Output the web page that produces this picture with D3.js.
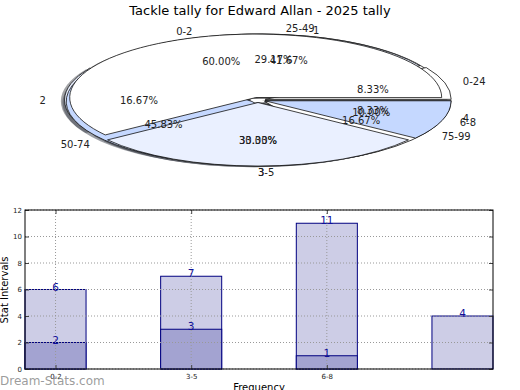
<!DOCTYPE html>
<html>
<head>
<meta charset="utf-8">
<script src="https://cdn.jsdelivr.net/npm/d3@7"></script>
<style>
  body { margin: 0; background: #fff; }
  svg { font-family: "DejaVu Sans", sans-serif; display: block; }
</style>
</head>
<body>
<script>
// chart data
const title = "Tackle tally for Edward Allan - 2025 tally";

// three pies drawn on top of each other, bottom one first
const pieNumLabels = ["1", "2", "3", "4"];
const pieNumValues = [5, 2, 4, 1];
const pieRangeLabels = ["0-24", "25-49", "50-74", "75-99"];
const pieRangeValues = [2, 7, 11, 4];
const pieStatLabels = ["0-2", "3-5", "6-8"];
const pieStatValues = [6, 3, 1];

// bar chart
const barCategories = ["0-2", "3-5", "6-8"];
const totalCounts = [6, 7, 11, 4];
const lowerCounts = [2, 3, 1];
const yTicks = [0, 2, 4, 6, 8, 10, 12];

const W = 520, H = 390;
const pieColors = ["#ffffff", "#eaf0ff", "#c5d8ff"];

const svg = d3.select("body").append("svg").attr("width", W).attr("height", H);

svg.append("text")
  .attr("x", 260).attr("y", 15)
  .attr("text-anchor", "middle")
  .attr("font-size", 13)
  .text(title);

//---- pie part ----
const cx = 258, cy = 100, rx = 186, ry = 63.5;
const explode = 0.04;

const pie = d3.pie().sort(null)
  .startAngle(Math.PI / 2)
  .endAngle(Math.PI / 2 - 2 * Math.PI); // counter clockwise from east
const arc = d3.arc().innerRadius(0).outerRadius(1);

const pieSets = [
  { labels: pieNumLabels, values: pieNumValues },
  { labels: pieRangeLabels, values: pieRangeValues },
  { labels: pieStatLabels, values: pieStatValues }
];

const wedges = [];
pieSets.forEach((p) => {
  const total = d3.sum(p.values);
  pie(p.values).forEach((a, i) => {
    const m = (a.startAngle + a.endAngle) / 2;
    wedges.push({
      ...a,
      label: p.labels[i],
      pct: a.value / total,
      color: pieColors[i % pieColors.length],
      ux: Math.sin(m),
      uy: -Math.cos(m)
    });
  });
});

const pieG = svg.append("g");

// shadows go under all wedges
pieG.selectAll("path.shadow")
  .data(wedges)
  .enter()
  .append("path")
  .attr("class", "shadow")
  .attr("d", arc)
  .attr("transform", (d) => `translate(${cx + explode * rx * d.ux - 0.02 * rx}, ${cy + explode * ry * d.uy + 0.02 * ry}) scale(${rx}, ${ry})`)
  .style("fill", (d) => { const c = d3.rgb(d.color); return d3.rgb(c.r * 0.3, c.g * 0.3, c.b * 0.3); })
  .style("fill-opacity", 0.5)
  .style("stroke", "none");

pieG.selectAll("path.wedge")
  .data(wedges)
  .enter()
  .append("path")
  .attr("class", "wedge")
  .attr("d", arc)
  .attr("transform", (d) => `translate(${cx + explode * rx * d.ux}, ${cy + explode * ry * d.uy}) scale(${rx}, ${ry})`)
  .attr("vector-effect", "non-scaling-stroke")
  .style("fill", (d) => d.color)
  .style("stroke", "#111")
  .style("stroke-width", 0.8);

pieG.selectAll("text.lbl")
  .data(wedges)
  .enter()
  .append("text")
  .attr("class", "lbl")
  .attr("x", (d) => cx + (1.1 + explode) * rx * d.ux)
  .attr("y", (d) => cy + (1.1 + explode) * ry * d.uy)
  .attr("dy", "0.35em")
  .attr("text-anchor", (d) => (d.ux > -1e-9 ? "start" : "end"))
  .attr("font-size", 10)
  .style("fill", "#222")
  .text((d) => d.label);

pieG.selectAll("text.pct")
  .data(wedges)
  .enter()
  .append("text")
  .attr("class", "pct")
  .attr("x", (d) => cx + (0.6 + explode) * rx * d.ux)
  .attr("y", (d) => cy + (0.6 + explode) * ry * d.uy)
  .attr("dy", "0.35em")
  .attr("text-anchor", "middle")
  .attr("font-size", 10)
  .style("fill", "#222")
  .text((d) => d3.format(".2f")(d.pct * 100) + "%");

//---- bar part ----
const plotLeft = 25, plotRight = 493, plotTop = 210, plotBottom = 369;
const barW = 0.45;

const x = d3.scaleLinear().domain([-barW / 2, totalCounts.length - 1 + barW / 2]).range([plotLeft, plotRight]);
const y = d3.scaleLinear().domain([0, 12]).range([plotBottom, plotTop]);

const barG = svg.append("g");

barG.selectAll("rect.total")
  .data(totalCounts)
  .enter()
  .append("rect")
  .attr("class", "total")
  .attr("x", (d, i) => x(i - barW / 2))
  .attr("width", (d, i) => x(i + barW / 2) - x(i - barW / 2))
  .attr("y", (d) => y(d))
  .attr("height", (d) => y(0) - y(d))
  .style("fill", "#cdcde6")
  .style("stroke", "#000080")
  .style("stroke-width", 1);

barG.selectAll("rect.lower")
  .data(lowerCounts)
  .enter()
  .append("rect")
  .attr("class", "lower")
  .attr("x", (d, i) => x(i - barW / 2))
  .attr("width", (d, i) => x(i + barW / 2) - x(i - barW / 2))
  .attr("y", (d) => y(d))
  .attr("height", (d) => y(0) - y(d))
  .style("fill", "#a3a3d1")
  .style("stroke", "#000080")
  .style("stroke-width", 1);

// grid on top of bars
barG.selectAll("line.hgrid")
  .data(yTicks)
  .enter()
  .append("line")
  .attr("x1", plotLeft).attr("x2", plotRight)
  .attr("y1", (d) => y(d)).attr("y2", (d) => y(d))
  .style("stroke", "#999")
  .style("stroke-dasharray", "1,2");

barG.selectAll("line.vgrid")
  .data(barCategories)
  .enter()
  .append("line")
  .attr("x1", (d, i) => x(i)).attr("x2", (d, i) => x(i))
  .attr("y1", plotTop).attr("y2", plotBottom)
  .style("stroke", "#999")
  .style("stroke-dasharray", "1,2");

// value labels
const valueLabels = totalCounts.map((v, i) => ({ v, i })).concat(lowerCounts.map((v, i) => ({ v, i })));
barG.selectAll("text.val")
  .data(valueLabels)
  .enter()
  .append("text")
  .attr("x", (d) => x(d.i))
  .attr("y", (d) => y(d.v) + 1)
  .attr("text-anchor", "middle")
  .attr("font-size", 10.5)
  .style("fill", "#10109a")
  .text((d) => d.v);

// axes
const yAxis = d3.axisLeft(y).tickValues(yTicks).tickSize(-4).tickPadding(3);
const yAxisR = d3.axisRight(y).tickValues(yTicks).tickSize(-4).tickFormat("");
const xAxis = d3.axisBottom(x).tickValues(barCategories.map((d, i) => i))
  .tickFormat((i) => barCategories[i]).tickSize(-4).tickPadding(5);
const xAxisT = d3.axisTop(x).tickValues(barCategories.map((d, i) => i)).tickSize(-4).tickFormat("");

const styleAxis = (g) => {
  g.select(".domain").remove();
  g.selectAll(".tick line").style("stroke", "#444");
  g.selectAll(".tick text").attr("font-size", 7).style("font-family", "DejaVu Sans").style("fill", "#222");
};

svg.append("g").attr("transform", `translate(${plotLeft},0)`).call(yAxis).call(styleAxis);
svg.append("g").attr("transform", `translate(${plotRight},0)`).call(yAxisR).call(styleAxis);
svg.append("g").attr("transform", `translate(0,${plotBottom})`).call(xAxis).call(styleAxis);
svg.append("g").attr("transform", `translate(0,${plotTop})`).call(xAxisT).call(styleAxis);

svg.append("rect")
  .attr("x", plotLeft).attr("y", plotTop)
  .attr("width", plotRight - plotLeft).attr("height", plotBottom - plotTop)
  .style("fill", "none")
  .style("stroke", "#000")
  .style("stroke-width", 1);

svg.append("text")
  .attr("transform", "translate(8,290) rotate(-90)")
  .attr("text-anchor", "middle")
  .attr("font-size", 10)
  .text("Stat Intervals");

svg.append("text")
  .attr("x", 259).attr("y", 391)
  .attr("text-anchor", "middle")
  .attr("font-size", 10)
  .text("Frequency");

// watermark
svg.append("text")
  .attr("x", 0).attr("y", 385)
  .attr("font-size", 12)
  .style("fill", "#8a8a8a")
  .style("fill-opacity", 0.85)
  .text("Dream-Stats.com");
</script>
</body>
</html>
